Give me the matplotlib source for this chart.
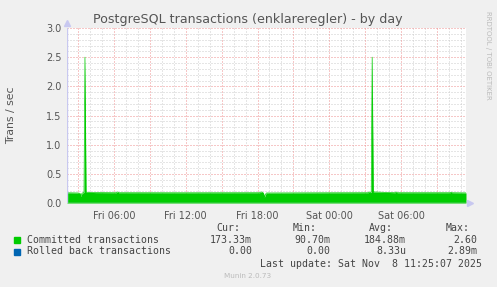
import matplotlib
matplotlib.use('Agg')
import matplotlib.pyplot as plt
from matplotlib.ticker import MultipleLocator, FixedLocator

# hours since Fri 00:00
committed_hours = [2.08, 3.0, 3.17, 3.25, 3.33, 3.42, 3.5, 3.58, 3.67, 4.5, 6.2, 6.3, 6.4,
                   12.0, 18.17, 18.33, 18.5, 18.58, 18.67, 18.75, 24.0, 27.25, 27.33, 27.42,
                   27.5, 27.58, 27.67, 29.5, 29.58, 29.67, 34.08, 34.17, 34.25, 35.42]
committed_vals = [0.175, 0.172, 0.165, 0.11, 0.168, 0.175, 0.18, 2.5, 0.185, 0.178, 0.176, 0.19, 0.176,
                  0.175, 0.176, 0.19, 0.17, 0.10, 0.15, 0.172, 0.175, 0.176, 0.19, 0.178,
                  0.18, 2.5, 0.19, 0.176, 0.19, 0.176, 0.176, 0.185, 0.176, 0.173]
rolled_hours = [2.08, 35.42]
rolled_vals = [0.0, 0.0]

x_tick_pos = [6, 12, 18, 24, 30]
x_tick_labels = ['Fri 06:00', 'Fri 12:00', 'Fri 18:00', 'Sat 00:00', 'Sat 06:00']

legend_rows = [
    ('Committed transactions', '#00CC00', '173.33m', '90.70m', '184.88m', '2.60'),
    ('Rolled back transactions', '#0066B3', '0.00', '0.00', '8.33u', '2.89m'),
]

W, H = 497, 287
fig = plt.figure(figsize=(W / 100, H / 100), dpi=100, facecolor='#F0F0F0')
ax = fig.add_axes([67 / W, (H - 203) / H, 399 / W, 175 / H])
ax.set_facecolor('white')

t0, t1 = 2.08, 35.42
ax.set_xlim(t0, t1)
ax.set_ylim(0, 3.0)

# grid
dots = (0, (1, 2))
for h in range(3, 36):
    if h % 3 == 0:
        continue
    ax.axvline(h, color='#CCCCCC', lw=0.72, ls=dots, zorder=1)
for v in [i / 10 for i in range(1, 30) if i % 5]:
    ax.axhline(v, color='#CCCCCC', lw=0.72, ls=dots, zorder=1)
for h in range(3, 36, 3):
    ax.axvline(h, color='#EE9090', lw=0.72, ls=dots, zorder=1)
for v in [0.5, 1.0, 1.5, 2.0, 2.5, 3.0]:
    ax.axhline(v, color='#EE9090', lw=0.72, ls=dots, zorder=1)

ax.fill_between(committed_hours, committed_vals, color='#00CC00', lw=0, zorder=2)
ax.plot(committed_hours, committed_vals, color='#00CC00', lw=0.5, zorder=2)
ax.fill_between(rolled_hours, committed_vals[0], color='none')

for s in ax.spines.values():
    s.set_visible(False)
ax.axvline(t0, color='#C8C8F0', lw=1, zorder=3)
ax.axhline(0, color='#C8C8F0', lw=1, zorder=3)
ax.plot([t1 + 0.35], [0], marker='>', ms=5, color='#C8C8F0', clip_on=False, zorder=3)
ax.plot([t0], [3.08], marker='^', ms=5, color='#C8C8F0', clip_on=False, zorder=3)

ax.xaxis.set_major_locator(FixedLocator(x_tick_pos))
ax.set_xticklabels(x_tick_labels)
ax.yaxis.set_major_locator(MultipleLocator(0.5))
ax.yaxis.set_major_formatter(matplotlib.ticker.FormatStrFormatter('%.1f'))
ax.tick_params(axis='both', labelsize=7, colors='#555555', length=0, pad=4)
ax.tick_params(axis='x', pad=6)

fig.text(248 / W, 1 - 19 / H, 'PostgreSQL transactions (enklareregler) - by day',
         ha='center', va='center', fontsize=9.1, color='#555555')
fig.text(11 / W, 1 - 115 / H, 'Trans / sec', rotation=90, ha='center', va='center',
         fontsize=7.8, color='#555555')
fig.text(488 / W, 1 - 55 / H, 'RRDTOOL / TOBI OETIKER', rotation=270, ha='center',
         va='center', fontsize=5, color='#BBBBBB')

mono = 'DejaVu Sans Mono'
fs = 7.1
txt = '#444444'
for xr, lab in [(240, 'Cur:'), (317, 'Min:'), (393, 'Avg:'), (470, 'Max:')]:
    fig.text(xr / W, 1 - 228 / H, lab, ha='right', va='center', family=mono, fontsize=fs, color=txt)
for i, (name, col, cur, mn, avg, mx) in enumerate(legend_rows):
    y = 1 - (240 + 11.5 * i) / H
    fig.patches.append(plt.Rectangle((14 / W, y - 3 / H), 6 / W, 6 / H, color=col,
                                     transform=fig.transFigure, figure=fig))
    fig.text(27 / W, y, name, ha='left', va='center', family=mono, fontsize=fs, color=txt)
    for xr, val in [(252, cur), (330, mn), (406, avg), (477, mx)]:
        fig.text(xr / W, y, val, ha='right', va='center', family=mono, fontsize=fs, color=txt)
fig.text(482 / W, 1 - 264 / H, 'Last update: Sat Nov  8 11:25:07 2025', ha='right', va='center',
         family=mono, fontsize=fs, color=txt)
fig.text(248 / W, 1 - 276 / H, 'Munin 2.0.73', ha='center', va='center', fontsize=5.2,
         color='#BBBBBB')

fig.savefig('out.png', dpi=100, facecolor=fig.get_facecolor())
